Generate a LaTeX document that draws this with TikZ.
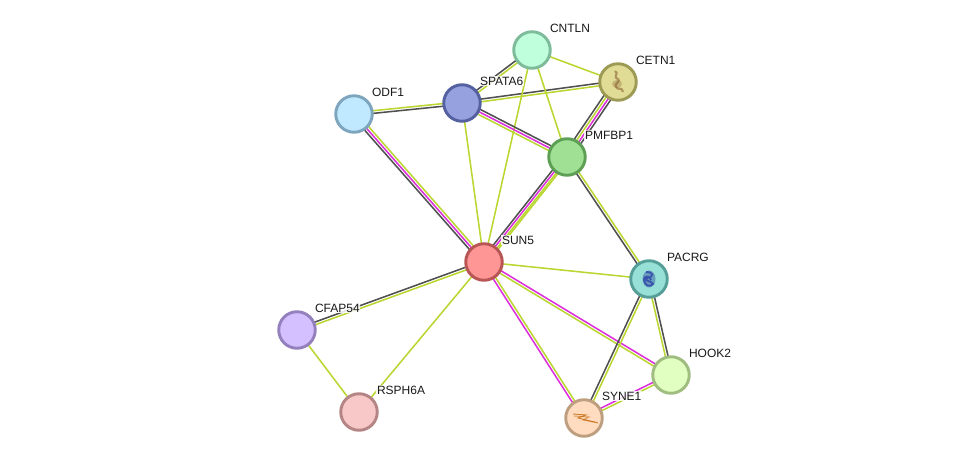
\documentclass[tikz,border=0pt]{standalone}
\usepackage{fontspec}
\setmainfont{Liberation Sans}
\usetikzlibrary{calc,backgrounds}

\definecolor{lnblk}{HTML}{505050}
\definecolor{lnmag}{HTML}{DC2EDC}
\definecolor{lnyel}{HTML}{BAD630}

\begin{document}
\begin{tikzpicture}[x=0.75pt,y=-0.75pt]
        \tikzstyle{prot}=[circle, draw, line width=2.2pt, minimum size=27.4pt, inner sep=0pt]
        \tikzstyle{protlabel}=[anchor=west, font=\fontsize{9pt}{9pt}\selectfont, fill=white, fill opacity=0.85, text opacity=1, inner sep=0.4pt, text=black!90]
        \tikzstyle{link}=[line width=1.15pt]

        \useasboundingbox (0,0) rectangle (975,463);

        % Draw proteins
        \foreach \name/\x/\y/\fc/\dc in {
            CNTLN/532/50/C0FFDC/7DBB9B,
            CETN1/618/82/E0DC96/9C9A55,
            SPATA6/462/103/96A2E0/5560A0,
            ODF1/354/114/C0E8FF/7DA5BD,
            PMFBP1/567/157/9FE094/5DA055,
            SUN5/484/262/FF9696/B85555,
            PACRG/649/279/96E0D8/559F98,
            CFAP54/297/330/D4C0FF/9480BD,
            HOOK2/671/375/E0FFC0/A0BD80,
            RSPH6A/359/412/F8C8C8/B58585,
            SYNE1/584/418/FFDCC0/BD9F80} {
            \definecolor{fc}{HTML}{\fc}
            \definecolor{dc}{HTML}{\dc}
            \node[prot, fill=fc, draw=dc] (\name) at (\x,\y) {};
        }

        % Add links, offset in pt to the left of the direction
        \begin{pgfonlayer}{background}
        \foreach \a/\b/\off/\c in {
            ODF1/SPATA6/1/lnyel, ODF1/SPATA6/-1/lnblk,
            SPATA6/CETN1/1/lnblk, SPATA6/CETN1/-1/lnyel,
            SPATA6/CNTLN/1/lnblk, SPATA6/CNTLN/-1/lnyel,
            CNTLN/CETN1/0/lnyel, CNTLN/PMFBP1/0/lnyel,
            CNTLN/SUN5/0/lnyel, SPATA6/SUN5/0/lnyel,
            SPATA6/PMFBP1/2/lnblk, SPATA6/PMFBP1/0/lnmag, SPATA6/PMFBP1/-2/lnyel,
            ODF1/SUN5/2/lnyel, ODF1/SUN5/0/lnmag, ODF1/SUN5/-2/lnblk,
            PMFBP1/CETN1/3/lnblk, PMFBP1/CETN1/1/lnyel, PMFBP1/CETN1/-1/lnmag, PMFBP1/CETN1/-3/lnblk,
            SUN5/PMFBP1/2.4/lnblk, SUN5/PMFBP1/0.6/lnmag, SUN5/PMFBP1/-1.2/lnyel, SUN5/PMFBP1/-2.4/lnyel,
            PMFBP1/PACRG/1/lnyel, PMFBP1/PACRG/-1/lnblk,
            SUN5/PACRG/0/lnyel,
            SUN5/HOOK2/1/lnmag, SUN5/HOOK2/-1/lnyel,
            SUN5/SYNE1/1/lnyel, SUN5/SYNE1/-1/lnmag,
            SUN5/CFAP54/1/lnyel, SUN5/CFAP54/-1/lnblk,
            SUN5/RSPH6A/0/lnyel, CFAP54/RSPH6A/0/lnyel,
            PACRG/SYNE1/1/lnyel, PACRG/SYNE1/-1/lnblk,
            PACRG/HOOK2/1/lnblk, PACRG/HOOK2/-1/lnyel,
            HOOK2/SYNE1/1/lnyel, HOOK2/SYNE1/-1/lnmag} {
            \draw[link, \c] ($(\a)!\off pt!90:(\b)$) -- ($(\b)!\off pt!-90:(\a)$);
        }
        \end{pgfonlayer}

        % Add protein labels
        \foreach \name in {CNTLN,CETN1,SPATA6,ODF1,PMFBP1,SUN5,PACRG,CFAP54,HOOK2,RSPH6A,SYNE1} {
            \node[protlabel] (\name-label) at ([xshift=12.9pt,yshift=16.5pt]\name.center) {\name};
        }

        % Structure pictures
        \fill[brown!70!black, opacity=0.3] (617,84) ellipse (5 and 4);
        \draw[brown!70!black, opacity=0.55, line width=1.6pt, line join=round]
            (615,71) .. controls (620,73) and (612,77) .. (618,79)
            .. controls (622,81) and (613,84) .. (616,87)
            .. controls (618,91) and (622,86) .. (623,92);
        \fill[blue!50!black, opacity=0.3] (649,279) ellipse (6.5 and 8.5);
        \draw[blue!60!black, opacity=0.45, line width=1.4pt]
            (646,272) .. controls (654,272) and (654,277) .. (647,278)
            .. controls (643,281) and (652,281) .. (653,284)
            .. controls (649,288) and (645,285) .. (644,280)
            .. controls (643,276) and (650,275) .. (651,280);
        \draw[orange!75!black, opacity=0.75, line width=0.7pt]
            (573,414) -- (586,415) -- (578,418) -- (598,423);
        \draw[orange!75!black, opacity=0.55, line width=0.7pt]
            (574,416) -- (589,417) -- (583,420) -- (595,422);
    \end{tikzpicture}
\end{document}
